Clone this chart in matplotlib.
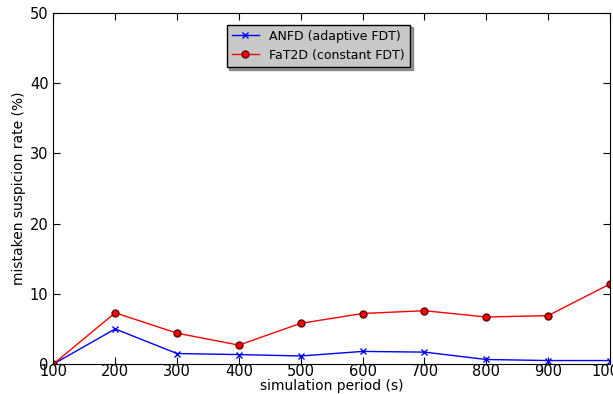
import matplotlib
matplotlib.use("Agg")
import matplotlib.pyplot as plt

periods = [100, 200, 300, 400, 500, 600, 700, 800, 900, 1000]
anfd_rate = [0.0, 5.0, 1.5, 1.35, 1.15, 1.8, 1.7, 0.65, 0.5, 0.5]
fat2d_rate = [0.0, 7.3, 4.4, 2.7, 5.8, 7.2, 7.6, 6.7, 6.9, 11.4]

fig = plt.figure(figsize=(6.13, 3.94), dpi=100)
ax = fig.add_axes([0.087, 0.076, 0.908, 0.891])

ax.plot(periods, anfd_rate, color="blue", marker="x", markersize=5, linewidth=1,
        label="ANFD (adaptive FDT)")
ax.plot(periods, fat2d_rate, color="red", marker="o", markersize=5, linewidth=1,
        markeredgecolor="#600000", label="FaT2D (constant FDT)")

ax.set_xlim(100, 1000)
ax.set_ylim(0, 50)
ax.set_xticks(periods)
ax.set_yticks([0, 10, 20, 30, 40, 50])
ax.tick_params(direction="in", labelsize=10.5, length=5, top=True, right=True)
ax.tick_params(axis="x", pad=0)
ax.set_xlabel("simulation period (s)", fontsize=10, labelpad=0)
ax.set_ylabel("mistaken suspicion rate (%)", fontsize=10, labelpad=3)

leg = ax.legend(loc="upper center", bbox_to_anchor=(0.476, 0.985), fontsize=9,
                shadow=True, fancybox=False, framealpha=1, edgecolor="black",
                handlelength=2.2)
leg.get_frame().set_facecolor("#c8c8c8")

fig.savefig("out.png", dpi=100)
